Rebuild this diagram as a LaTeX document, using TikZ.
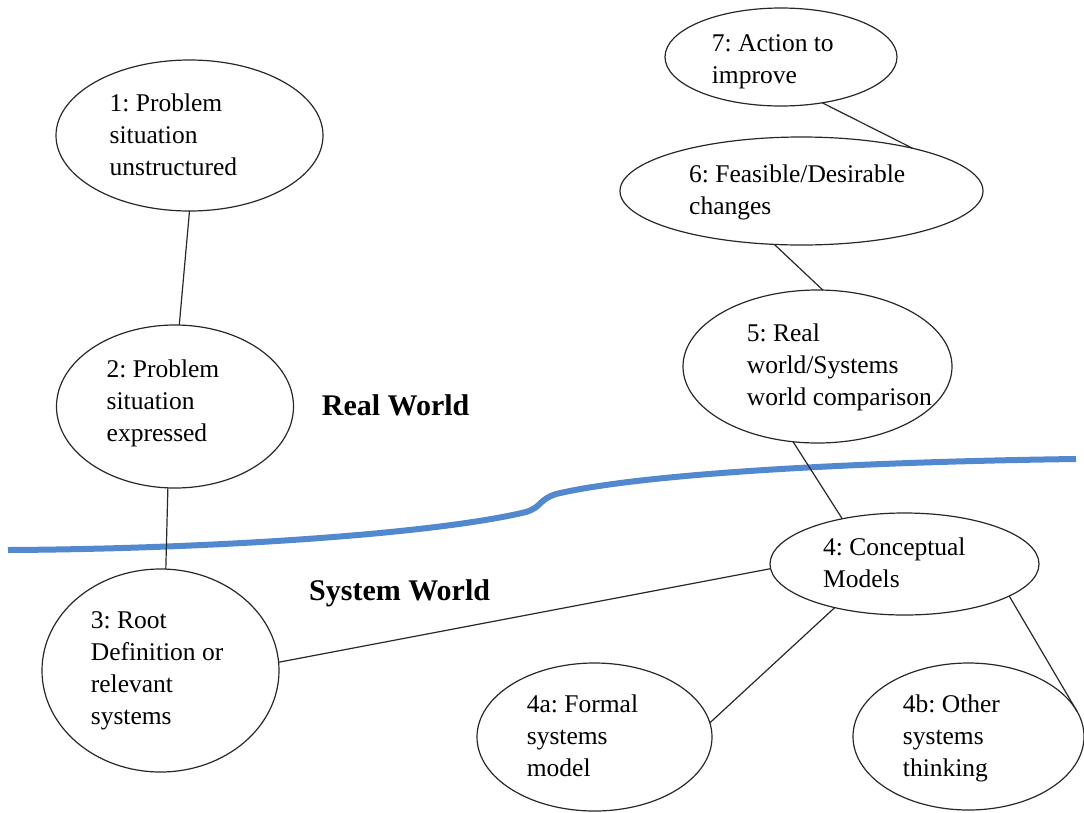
\documentclass[tikz,border=0pt]{standalone}
\usepackage{fontspec}
\setmainfont{LiberationSerif}[Extension=.ttf, UprightFont=*-Regular,
  BoldFont=*-Bold, ItalicFont=*-Italic, BoldItalicFont=*-BoldItalic]
\frenchspacing
\usetikzlibrary{shapes.geometric}
\definecolor{boundary}{RGB}{82,137,206}
\definecolor{ink}{RGB}{40,40,40}
\begin{document}
\begin{tikzpicture}[x=1pt,y=-1pt,
  bubble/.style 2 args={draw=ink, line width=1.2pt, ellipse, inner sep=0pt,
    outer sep=0pt, minimum width=#1pt, minimum height=#2pt},
  stagetext/.style={anchor=north west, inner sep=0pt, align=left,
    font=\rmfamily\fontsize{25.5}{32}\selectfont},
  worldlabel/.style={anchor=base west, inner sep=0pt,
    font=\rmfamily\fontsize{30}{36}\selectfont\bfseries},
  link/.style={draw=ink, line width=1.2pt},
  divide/.style={draw=boundary, line width=6pt}]
\useasboundingbox (0,0) rectangle (1084,812);
\clip (0,0) rectangle (1084,812);
\fill[white] (0,0) rectangle (1084,812);

% stage bubbles
\node[bubble={267}{151}] (e1) at (189.5,135.5) {};
\node[bubble={237}{163}] (e2) at (175,406.5) {};
\node[bubble={237}{203}] (e3) at (160.5,670.5) {};
\node[bubble={269}{102}] (e4) at (904.5,564) {};
\node[bubble={235}{148}] (e4a) at (594.5,737) {};
\node[bubble={231}{147}] (e4b) at (968.5,736.5) {};
\node[bubble={269}{153}] (e5) at (817.5,366.5) {};
\node[bubble={363}{108}] (e6) at (801.5,191) {};
\node[bubble={232}{98}] (e7) at (781,57) {};

% stage texts (first baseline = y + 22.4)
\node[stagetext] (t1) at (109.5,88.6) {\strut 1: Problem\\situation\\unstructured};
\node[stagetext] (t2) at (106.5,354.4) {\strut 2: Problem\\situation\\expressed};
\node[stagetext] (t3) at (90.7,605.4) {\strut 3: Root\\Definition or\\relevant\\systems};
\node[stagetext] (t4) at (823,532.6) {\strut 4: Conceptual\\Models};
\node[stagetext] (t4a) at (526.7,689.4) {\strut 4a: Formal\\systems\\model};
\node[stagetext] (t4b) at (902.7,689.6) {\strut 4b: Other\\systems\\thinking};
\node[stagetext] (t5) at (746.7,318.4) {\strut 5: Real\\world/Systems\\world comparison};
\node[stagetext] (t6) at (689,159.4) {\strut 6: Feasible/Desirable\\changes};
\node[stagetext] (t7) at (711.7,29.3) {\strut 7: Action to\\improve};

% world labels
\node[worldlabel] (real) at (321.7,415) {Real World};
\node[worldlabel] (sys) at (309,600) {System World};

% boundary between the two worlds
\draw[divide] (8,550) .. controls (200,549) and (430,535) .. (526,512)
  .. controls (542,507) and (538,500) .. (556,494)
  .. controls (640,474) and (850,462) .. (1076,459);

% connectors
\draw[link] (e1.-90) -- (e2.87);
\draw[link] (e2.-95) -- (e3.87);
\draw[link] (e3.4) -- (e4.182.6);
\draw[link] (e4.-148.4) -- (e4a.7);
\draw[link] (e4.-17.7) -- (e4b.13);
\draw[link] (e5.-108.2) -- (e4.144.7);
\draw[link] (e6.-117.8) -- (e5.86);
\draw[link] (e7.-48) -- (e6.21.5);
\end{tikzpicture}
\end{document}
